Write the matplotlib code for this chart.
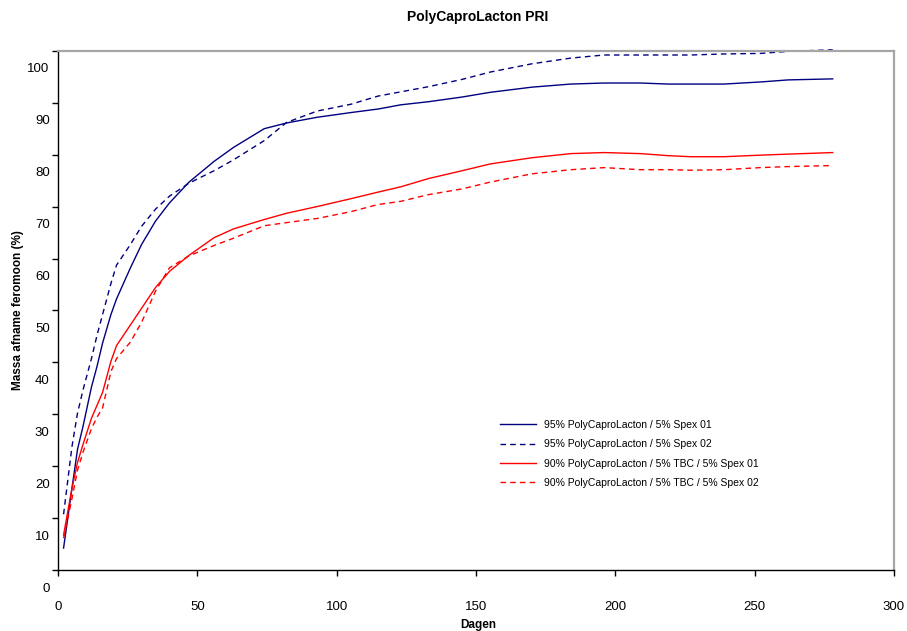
import matplotlib
matplotlib.use("Agg")
import matplotlib.pyplot as plt
import matplotlib.transforms as mtransforms
import numpy as np

plt.rcParams['font.family'] = ['Liberation Sans', 'DejaVu Sans']

# Gegevens
dagen = [2, 5, 7, 9, 12, 14, 16, 19, 21, 26, 30, 35, 40, 47, 56, 63, 74, 82, 93,
         105, 115, 123, 133, 145, 155, 170, 184, 196, 209, 219, 227, 239, 252, 262, 278]

pcl95_spex01 = [7.5, 19, 26.5, 31, 38.5, 42.5, 47, 52.5, 55.5, 61.5, 66, 70.5, 74, 78, 82,
                84.7, 88.3, 89.4, 90.5, 91.4, 92.1, 92.9, 93.5, 94.4, 95.3, 96.3, 96.9, 97.1,
                97.1, 96.9, 96.9, 96.9, 97.3, 97.7, 97.9]
pcl95_spex02 = [14, 27, 33.5, 38, 44, 48.5, 52.5, 58.5, 62, 66, 69.5, 72.8, 75.3, 77.8, 80.2,
                82.3, 86, 89.5, 91.7, 93, 94.6, 95.4, 96.4, 97.8, 99.2, 100.8, 101.9, 102.5,
                102.5, 102.5, 102.5, 102.7, 102.8, 103.2, 103.5]
pcl90_tbc_spex01 = [10, 19, 24, 27.5, 32.5, 35, 37.5, 43.5, 46.5, 50.5, 53.7, 57.7, 60.8, 63.9,
                    67.3, 69, 70.8, 72, 73.3, 74.8, 76.1, 77.1, 78.7, 80.2, 81.5, 82.7, 83.5,
                    83.7, 83.5, 83.1, 82.9, 82.9, 83.2, 83.4, 83.7]
pcl90_tbc_spex02 = [9.4, 17, 22.5, 26, 30.5, 32.7, 34.5, 41.5, 44, 47.2, 51, 57, 61.5, 63.8,
                    65.8, 67.2, 69.6, 70.2, 71, 72.3, 73.7, 74.3, 75.6, 76.7, 78, 79.6, 80.4,
                    80.8, 80.4, 80.4, 80.3, 80.4, 80.8, 81, 81.2]

labels = ["95% PolyCaproLacton / 5% Spex 01",
          "95% PolyCaproLacton / 5% Spex 02",
          "90% PolyCaproLacton / 5% TBC / 5% Spex 01",
          "90% PolyCaproLacton / 5% TBC / 5% Spex 02"]

y_ticks = list(range(0, 101, 10))
x_ticks = list(range(0, 301, 50))

# de y-as begint niet precies op 0 (labels staan verschoven zoals in Excel)
y_offset = 3.27

fig = plt.figure(figsize=(9.07, 6.31), dpi=100)
ax = fig.add_axes([58 / 907, 1 - 570 / 631, (894 - 58) / 907, (570 - 51) / 631])

dash = (0, (4, 3))
ax.plot(dagen, pcl95_spex01, color='#000080', lw=1.0, label=labels[0], clip_on=False)
ax.plot(dagen, pcl95_spex02, color='#000080', lw=1.0, ls=dash, label=labels[1], clip_on=False)
ax.plot(dagen, pcl90_tbc_spex01, color='#ff0000', lw=1.0, label=labels[2], clip_on=False)
ax.plot(dagen, pcl90_tbc_spex02, color='#ff0000', lw=1.0, ls=dash, label=labels[3], clip_on=False)

ax.set_xlim(0, 300)
ax.set_ylim(y_offset, 100 + y_offset - 0.1)
ax.set_xticks(x_ticks)
ax.set_xticklabels([str(t) for t in x_ticks])
ax.set_yticks([t + y_offset for t in y_ticks])
ax.set_yticklabels([str(t) for t in y_ticks])

ax.tick_params(axis='both', direction='out', length=4, width=1, labelsize=9.5, colors='black')
ax.tick_params(axis='y', pad=2)
ax.tick_params(axis='x', pad=18)

# labels van de y-as 17 px omlaag schuiven
offset = mtransforms.ScaledTranslation(0, -17 / 100, fig.dpi_scale_trans)
for lab in ax.get_yticklabels():
    lab.set_transform(lab.get_transform() + offset)

for s in ['top', 'right']:
    ax.spines[s].set_color('#a6a6a6')
    ax.spines[s].set_linewidth(1.6)
for s in ['left', 'bottom']:
    ax.spines[s].set_color('black')
    ax.spines[s].set_linewidth(1.0)

fig.text(478 / 907, 1 - 17 / 631, "PolyCaproLacton PRI", ha='center', va='center',
         fontsize=10, fontweight='bold')
fig.text(18 / 907, 1 - 310 / 631, "Massa afname feromoon (%)", ha='center', va='center',
         rotation=90, fontsize=8.5, fontweight='bold')
fig.text(478 / 907, 1 - 625 / 631, "Dagen", ha='center', va='center',
         fontsize=8.5, fontweight='bold')

ax.legend(loc='upper left', bbox_to_anchor=(500 / 907, 1 - 420 / 631),
          bbox_transform=fig.transFigure, frameon=False, fontsize=7.5,
          handlelength=3.5, handletextpad=0.7, labelspacing=0.9, borderpad=0,
          borderaxespad=0)

fig.savefig("out.png", dpi=100)
